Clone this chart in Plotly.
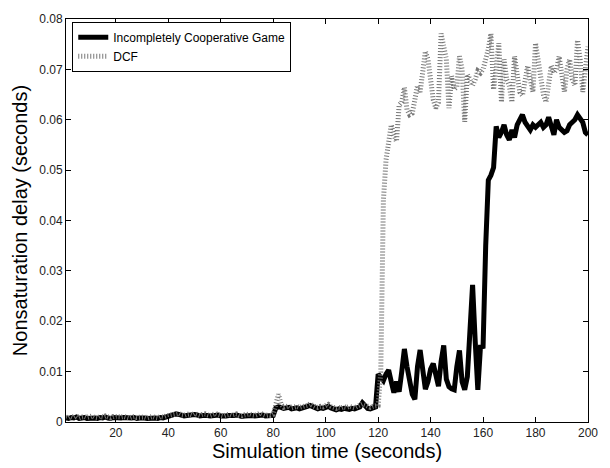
import plotly.graph_objects as go

t = list(range(1, 201))

icg = [
    0.0008,0.0007,0.0009,0.0008,0.0010,0.0007,0.0008,0.0009,0.0007,0.0008,
    0.0009,0.0008,0.0007,0.0009,0.0008,0.0010,0.0008,0.0007,0.0009,0.0008,
    0.0007,0.0008,0.0009,0.0008,0.0007,0.0008,0.0009,0.0007,0.0008,0.0009,
    0.0008,0.0007,0.0008,0.0009,0.0008,0.0007,0.0009,0.0008,0.0010,0.0011,
    0.0013,0.0015,0.0016,0.0015,0.0013,0.0012,0.0013,0.0014,0.0013,0.0015,
    0.0014,0.0012,0.0013,0.0014,0.0013,0.0012,0.0013,0.0015,0.0014,0.0012,
    0.0011,0.0012,0.0013,0.0012,0.0013,0.0014,0.0012,0.0011,0.0012,0.0013,
    0.0014,0.0013,0.0012,0.0013,0.0015,0.0014,0.0012,0.0013,0.0012,0.0013,
    0.0028,0.0030,0.0029,0.0027,0.0028,0.0029,0.0026,0.0027,0.0028,0.0026,
    0.0027,0.0029,0.0031,0.0033,0.0030,0.0028,0.0026,0.0028,0.0027,0.0029,
    0.0031,0.0028,0.0025,0.0024,0.0026,0.0025,0.0027,0.0026,0.0025,0.0027,
    0.0026,0.0028,0.0030,0.0038,0.0032,0.0027,0.0026,0.0028,0.0030,0.0095,
    0.0090,0.0082,0.0095,0.0103,0.0080,0.0058,0.0080,0.0060,0.0100,0.0145,
    0.0110,0.0075,0.0055,0.0045,0.0110,0.0143,0.0100,0.0065,0.0080,0.0105,
    0.0116,0.0090,0.0071,0.0120,0.0152,0.0085,0.0070,0.0066,0.0064,0.0110,
    0.0142,0.0080,0.0064,0.0090,0.0200,0.0272,0.0160,0.0064,0.0149,0.0150,
    0.0350,0.0480,0.0490,0.0505,0.0587,0.0565,0.0575,0.0590,0.0570,0.0560,
    0.0580,0.0565,0.0590,0.0600,0.0610,0.0595,0.0585,0.0580,0.0590,0.0585,
    0.0590,0.0595,0.0585,0.0590,0.0605,0.0590,0.0570,0.0600,0.0585,0.0580,
    0.0575,0.0578,0.0590,0.0595,0.0600,0.0610,0.0600,0.0595,0.0575,0.0570,
]

dcf = [
    0.0010,0.0008,0.0011,0.0009,0.0012,0.0008,0.0010,0.0011,0.0009,0.0010,
    0.0012,0.0009,0.0008,0.0011,0.0010,0.0012,0.0009,0.0008,0.0011,0.0010,
    0.0009,0.0010,0.0011,0.0009,0.0008,0.0010,0.0011,0.0009,0.0010,0.0011,
    0.0010,0.0008,0.0010,0.0011,0.0009,0.0008,0.0011,0.0010,0.0012,0.0013,
    0.0015,0.0017,0.0016,0.0017,0.0014,0.0013,0.0015,0.0016,0.0014,0.0017,
    0.0015,0.0013,0.0015,0.0016,0.0014,0.0013,0.0015,0.0017,0.0015,0.0013,
    0.0012,0.0014,0.0015,0.0013,0.0015,0.0016,0.0013,0.0012,0.0014,0.0015,
    0.0016,0.0014,0.0013,0.0015,0.0018,0.0015,0.0013,0.0014,0.0013,0.0015,
    0.0032,0.0055,0.0035,0.0029,0.0031,0.0032,0.0028,0.0030,0.0031,0.0029,
    0.0030,0.0032,0.0033,0.0036,0.0032,0.0030,0.0029,0.0031,0.0030,0.0032,
    0.0035,0.0031,0.0028,0.0027,0.0029,0.0028,0.0030,0.0029,0.0031,0.0030,
    0.0028,0.0031,0.0033,0.0036,0.0034,0.0030,0.0029,0.0031,0.0032,0.0033,
    0.0100,0.0440,0.0520,0.0560,0.0590,0.0570,0.0557,0.0629,0.0635,0.0664,
    0.0620,0.0610,0.0613,0.0640,0.0668,0.0655,0.0690,0.0736,0.0720,0.0670,
    0.0640,0.0623,0.0635,0.0771,0.0740,0.0720,0.0623,0.0687,0.0660,0.0665,
    0.0726,0.0700,0.0596,0.0690,0.0680,0.0668,0.0680,0.0697,0.0693,0.0700,
    0.0720,0.0740,0.0771,0.0660,0.0700,0.0752,0.0635,0.0720,0.0680,0.0668,
    0.0635,0.0726,0.0690,0.0655,0.0648,0.0680,0.0707,0.0680,0.0655,0.0752,
    0.0720,0.0687,0.0650,0.0635,0.0680,0.0707,0.0693,0.0700,0.0726,0.0680,
    0.0655,0.0700,0.0720,0.0680,0.0668,0.0758,0.0720,0.0655,0.0700,0.0745,
]

x_ticks = [20, 40, 60, 80, 100, 120, 140, 160, 180, 200]
y_ticks = [0, 0.01, 0.02, 0.03, 0.04, 0.05, 0.06, 0.07, 0.08]
y_ticktext = ["0", "0.01", "0.02", "0.03", "0.04", "0.05", "0.06", "0.07", "0.08"]

fig = go.Figure()
fig.add_trace(go.Scatter(
    x=t, y=icg, mode="lines", name="Incompletely Cooperative Game",
    line=dict(color="black", width=5),
))
fig.add_trace(go.Scatter(
    x=t, y=dcf, mode="lines", name="DCF",
    line=dict(color="#777777", width=5, dash="1px,2px"),
))

axis_common = dict(
    showgrid=False, zeroline=False, showline=True, linecolor="black", linewidth=1,
    mirror="ticks", ticks="inside", ticklen=5, tickcolor="black",
    tickfont=dict(family="Arial, Liberation Sans", size=12, color="#222222"),
)

fig.update_layout(
    width=610, height=468,
    margin=dict(l=66, r=22, t=12, b=45),
    paper_bgcolor="white", plot_bgcolor="white",
    font=dict(family="Arial, Liberation Sans", color="black"),
    showlegend=True,
    legend=dict(
        x=0.012, y=0.993, xanchor="left", yanchor="top",
        bgcolor="white", bordercolor="black", borderwidth=1,
        font=dict(family="Arial, Liberation Sans", size=12, color="black"),
        tracegroupgap=0, itemwidth=30,
    ),
    xaxis=dict(
        range=[1, 200], tickvals=x_ticks,
        title=dict(text="Simulation time (seconds)", font=dict(size=20, family="Arial, Liberation Sans"), standoff=2),
        **axis_common,
    ),
    yaxis=dict(
        range=[0, 0.08], tickvals=y_ticks, ticktext=y_ticktext,
        title=dict(text="Nonsaturation delay (seconds)", font=dict(size=20, family="Arial, Liberation Sans"), standoff=6),
        **axis_common,
    ),
)

fig.write_html("out.html")
